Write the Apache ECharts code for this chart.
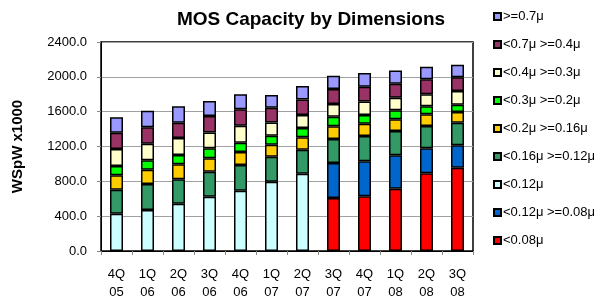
<!DOCTYPE html>
<html><head><meta charset="utf-8">
<script src="https://cdn.jsdelivr.net/npm/echarts@6/dist/echarts.min.js"></script>
<style>html,body{margin:0;padding:0;background:#fff}#c{width:601px;height:302px}</style>
</head><body><div id="c"></div>
<script>
const categories = ['4Q\n05','1Q\n06','2Q\n06','3Q\n06','4Q\n06','1Q\n07','2Q\n07','3Q\n07','4Q\n07','1Q\n08','2Q\n08','3Q\n08'];
const yTicks = [0, 400, 800, 1200, 1600, 2000, 2400];
const lt008   = [null,null,null,null,null,null,null, 608, 628, 715, 892, 956];
const lt012ge008 = [null,null,null,null,null,null,null, 402, 402, 384, 287, 257];
const lt012   = [428, 471, 543, 623, 692, 796, 888, null,null,null,null,null];
const lt016ge012 = [276, 298, 280, 287, 295, 287, 275, 276, 290, 279, 256, 260];
const lt02ge016  = [165, 164, 172, 154, 150, 138, 142, 146, 142, 134, 134, 123];
const lt03ge02   = [107, 108, 107, 115, 106, 103, 107, 110, 99, 103, 92, 84];
const lt04ge03   = [195, 191, 195, 183, 196, 153, 149, 146, 157, 145, 138, 157];
const lt07ge04   = [187, 188, 176, 188, 188, 168, 180, 172, 168, 161, 172, 157];
const ge07       = [177, 191, 188, 172, 172, 146, 153, 153, 157, 153, 145, 145];

const seriesDefs = [
  ['<0.08\u03bc', lt008, '#FF0000'],
  ['<0.12\u03bc >=0.08\u03bc', lt012ge008, '#0066CC'],
  ['<0.12\u03bc', lt012, '#CCFFFF'],
  ['<0.16\u03bc >=0.12\u03bc', lt016ge012, '#339966'],
  ['<0.2\u03bc >=0.16\u03bc', lt02ge016, '#FFCC00'],
  ['<0.3\u03bc >=0.2\u03bc', lt03ge02, '#00FF00'],
  ['<0.4\u03bc >=0.3\u03bc', lt04ge03, '#FFFFCC'],
  ['<0.7\u03bc >=0.4\u03bc', lt07ge04, '#993366'],
  ['>=0.7\u03bc', ge07, '#9999FF']
];
const legendData = ['>=0.7\u03bc','<0.7\u03bc >=0.4\u03bc','<0.4\u03bc >=0.3\u03bc','<0.3\u03bc >=0.2\u03bc','<0.2\u03bc >=0.16\u03bc','<0.16\u03bc >=0.12\u03bc','<0.12\u03bc','<0.12\u03bc >=0.08\u03bc','<0.08\u03bc'];

const chart = echarts.init(document.getElementById('c'), null, {renderer:'canvas'});
chart.setOption({
  animation: false,
  textStyle: {fontFamily: 'Liberation Sans, Arial, sans-serif', color:'#000'},
  title: {
    text: 'MOS Capacity by Dimensions',
    left: 306, top: 5, textAlign: 'center',
    textStyle: {fontSize: 19, fontWeight: 'bold', color:'#000', fontFamily:'Liberation Sans, Arial, sans-serif'}
  },
  legend: {
    orient: 'vertical', left: 488, top: 5,
    itemWidth: 7, itemHeight: 7, itemGap: 15,
    data: legendData,
    textStyle: {fontSize: 13, color:'#000', padding:[0,0,0,-3]},
    icon: 'rect'
  },
  grid: {left: 101, right: 128, top: 42, bottom: 51, show: true, borderColor: '#000', borderWidth: 1.5},
  xAxis: {
    type: 'category', data: categories,
    axisLine: {lineStyle: {color:'#000', width: 1}},
    axisTick: {show: true, length: 4, alignWithLabel: false, lineStyle:{color:'#888'}},
    axisLabel: {fontSize: 13, color:'#000', margin: 14, lineHeight: 18}
  },
  yAxis: {
    type: 'value', min: 0, max: 2400, interval: 400,
    name: 'WSpW x1000', nameLocation: 'middle', nameGap: 76, nameRotate: 90,
    nameTextStyle: {fontSize: 15, fontWeight: 'bold', color:'#000'},
    axisLine: {show: true, lineStyle: {color:'#000'}},
    axisTick: {show: true, length: 4, lineStyle:{color:'#888'}},
    axisLabel: {fontSize: 13, color:'#000', margin: 14, formatter: v => yTicks.includes(v) ? v.toFixed(1) : ''},
    splitLine: {show: true, lineStyle: {color:'#a0a0a0', width: 1}}
  },
  series: seriesDefs.map(([name, data, color]) => ({
    name, type: 'bar', stack: 'total', data, barWidth: 13,
    itemStyle: {color, borderColor: '#000', borderWidth: 1.5}
  }))
});
</script></body></html>
